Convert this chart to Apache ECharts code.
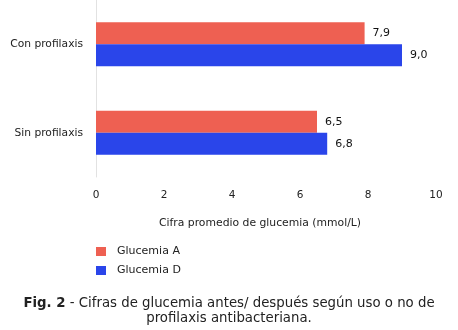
<!DOCTYPE html>
<html>
<head>
<meta charset="utf-8">
<script src="https://cdn.jsdelivr.net/npm/echarts@6/dist/echarts.min.js"></script>
<style>
  html, body { margin: 0; padding: 0; background: #fff; }
  #chart { width: 458px; height: 330px; }
</style>
</head>
<body>
<div id="chart"></div>
<script>
// Categories top to bottom
const categories = ['Con profilaxis', 'Sin profilaxis'];
// Mean glucose (mmol/L) before and after
const glucemiaA = [7.9, 6.5];
const glucemiaD = [9.0, 6.8];
const seriesNames = ['Glucemia A', 'Glucemia D'];
const xTicks = [0, 2, 4, 6, 8, 10];

const FONT = '"DejaVu Sans", Verdana, sans-serif';
const RED = '#EE6052';
const BLUE = '#2A45EA';

const chart = echarts.init(document.getElementById('chart'));

const fmt = v => v.toFixed(1).replace('.', ',');

chart.setOption({
  animation: false,
  textStyle: { fontFamily: FONT },
  grid: { left: 96, top: -3, width: 340, height: 180, containLabel: false },
  xAxis: {
    type: 'value',
    min: xTicks[0],
    max: xTicks[xTicks.length - 1],
    interval: 2,
    axisLine: { show: false },
    axisTick: { show: false },
    splitLine: { show: false },
    axisLabel: { color: '#222', fontSize: 10.5, margin: 13, fontFamily: FONT },
    name: 'Cifra promedio de glucemia (mmol/L)',
    nameLocation: 'middle',
    nameGap: 41,
    nameTextStyle: { color: '#222', fontSize: 10.8, fontFamily: FONT, padding: [0, 12, 0, 0] }
  },
  yAxis: {
    type: 'category',
    data: categories,
    inverse: true,
    axisLine: { show: true, lineStyle: { color: '#e2e2e2', width: 1 } },
    axisTick: { show: false },
    axisLabel: { color: '#222', fontSize: 10.7, margin: 13, fontFamily: FONT }
  },
  legend: {
    orient: 'vertical',
    left: 91,
    top: 241,
    itemWidth: 10,
    itemHeight: 9,
    itemGap: 8,
    icon: 'rect',
    textStyle: { color: '#222', fontSize: 11, fontFamily: FONT, padding: [0, 0, 0, 6] },
    data: seriesNames
  },
  series: [
    {
      name: seriesNames[0],
      type: 'bar',
      data: glucemiaA,
      barWidth: 22,
      barGap: '0%',
      itemStyle: { color: RED },
      label: { show: true, position: 'right', distance: 8, color: '#111', fontSize: 11, fontFamily: FONT, formatter: p => fmt(p.value) }
    },
    {
      name: seriesNames[1],
      type: 'bar',
      data: glucemiaD,
      barWidth: 22,
      barGap: '0%',
      itemStyle: { color: BLUE },
      label: { show: true, position: 'right', distance: 8, color: '#111', fontSize: 11, fontFamily: FONT, formatter: p => fmt(p.value) }
    }
  ],
  graphic: [
    {
      type: 'text',
      x: 229,
      y: 296,
      style: {
        text: '{b|Fig. 2} - Cifras de glucemia antes/ después según uso o no de\nprofilaxis antibacteriana.',
        align: 'center',
        fontFamily: FONT,
        fontSize: 13.3,
        lineHeight: 15,
        fill: '#222',
        rich: {
          b: { fontFamily: FONT, fontSize: 13.3, fontWeight: 'bold', fill: '#222', lineHeight: 15 }
        }
      }
    }
  ]
});
</script>
</body>
</html>
